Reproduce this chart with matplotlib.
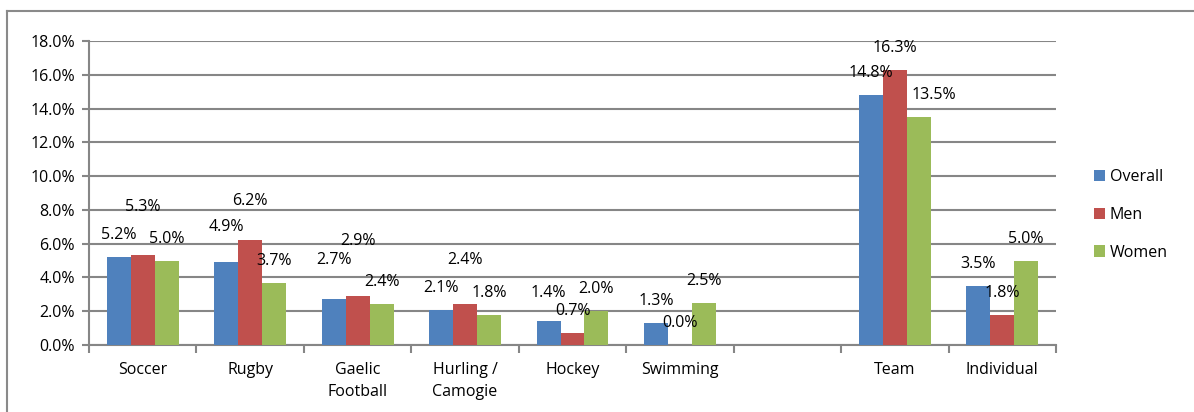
import numpy as np
import matplotlib.pyplot as plt
from matplotlib.lines import Line2D
from matplotlib.ticker import FuncFormatter

categories = ['Soccer', 'Rugby', 'Gaelic\nFootball', 'Hurling /\nCamogie', 'Hockey',
              'Swimming', '', 'Team', 'Individual']
overall = [5.2, 4.9, 2.7, 2.1, 1.4, 1.3, None, 14.8, 3.5]
men = [5.3, 6.2, 2.9, 2.4, 0.7, 0.0, None, 16.3, 1.8]
women = [5.0, 3.7, 2.4, 1.8, 2.0, 2.5, None, 13.5, 5.0]

series = [('Overall', overall, '#4F81BD'),
          ('Men', men, '#C0504D'),
          ('Women', women, '#9BBB59')]

# extra lift (px) for labels that were moved up by hand, keyed by (series, slot)
lift = {(1, 0): 26, (0, 1): 13, (1, 1): 17, (0, 2): 17, (1, 2): 33,
        (1, 3): 22, (0, 4): 6}
shift = {(2, 7): 15}

plt.rcParams['font.family'] = ['Open Sans', 'DejaVu Sans']
fs = 11.5

fig = plt.figure(figsize=(11.94, 4.12), dpi=100)
ax = fig.add_axes([89 / 1194, 67 / 412, 967 / 1194, 304 / 412])

x = np.arange(len(categories))
w = 0.223
for i, (name, vals, col) in enumerate(series):
    xs = [x[j] + (i - 1) * w for j in range(len(vals)) if vals[j] is not None]
    ys = [v for v in vals if v is not None]
    ax.bar(xs, ys, width=w, color=col, label=name, zorder=3)
    for j, v in enumerate(vals):
        if v is None:
            continue
        ax.annotate('%.1f%%' % v, (x[j] + (i - 1) * w, v),
                    xytext=(shift.get((i, j), 0), 22 + lift.get((i, j), 0)),
                    textcoords='offset pixels', ha='center', va='center',
                    fontsize=fs, zorder=5)

grid_col = '#868686'
ax.set_xlim(-0.5, len(categories) - 0.5)
ax.set_ylim(0, 18)
ax.set_yticks(np.arange(0, 18.1, 2))
ax.yaxis.set_major_formatter(FuncFormatter(lambda v, p: '%.1f%%' % v))
ax.grid(axis='y', color=grid_col, linewidth=1.5, zorder=0)
ax.tick_params(axis='y', length=5, width=1.5, color=grid_col, pad=5, labelsize=fs)

ax.set_xticks(np.arange(-0.5, len(categories)), minor=False)
ax.set_xticklabels([])
ax.set_xticks(x, minor=True)
ax.set_xticklabels(categories, minor=True, fontsize=fs, linespacing=1.55, va='top')
ax.tick_params(axis='x', which='major', length=6, width=1.5, color=grid_col, direction='out')
ax.tick_params(axis='x', which='minor', length=0, pad=12)

for s in ['top', 'right']:
    ax.spines[s].set_visible(False)
for s in ['left', 'bottom']:
    ax.spines[s].set_color(grid_col)
    ax.spines[s].set_linewidth(1.5)

ax.legend(loc='center left', bbox_to_anchor=(1094 / 1194, 1 - 215 / 412),
          bbox_transform=fig.transFigure, frameon=False, fontsize=fs,
          handlelength=0.7, handleheight=0.7, handletextpad=0.3,
          labelspacing=1.35, borderpad=0, borderaxespad=0)

# outer chart frame
fig.add_artist(Line2D([7 / 1194, 1], [1 - 11 / 412, 1 - 11 / 412],
                      color='#8a8a8a', linewidth=1.5, transform=fig.transFigure))
fig.add_artist(Line2D([7 / 1194, 7 / 1194], [0, 1 - 11 / 412],
                      color='#8a8a8a', linewidth=1.5, transform=fig.transFigure))

fig.savefig('out.png', dpi=100)
